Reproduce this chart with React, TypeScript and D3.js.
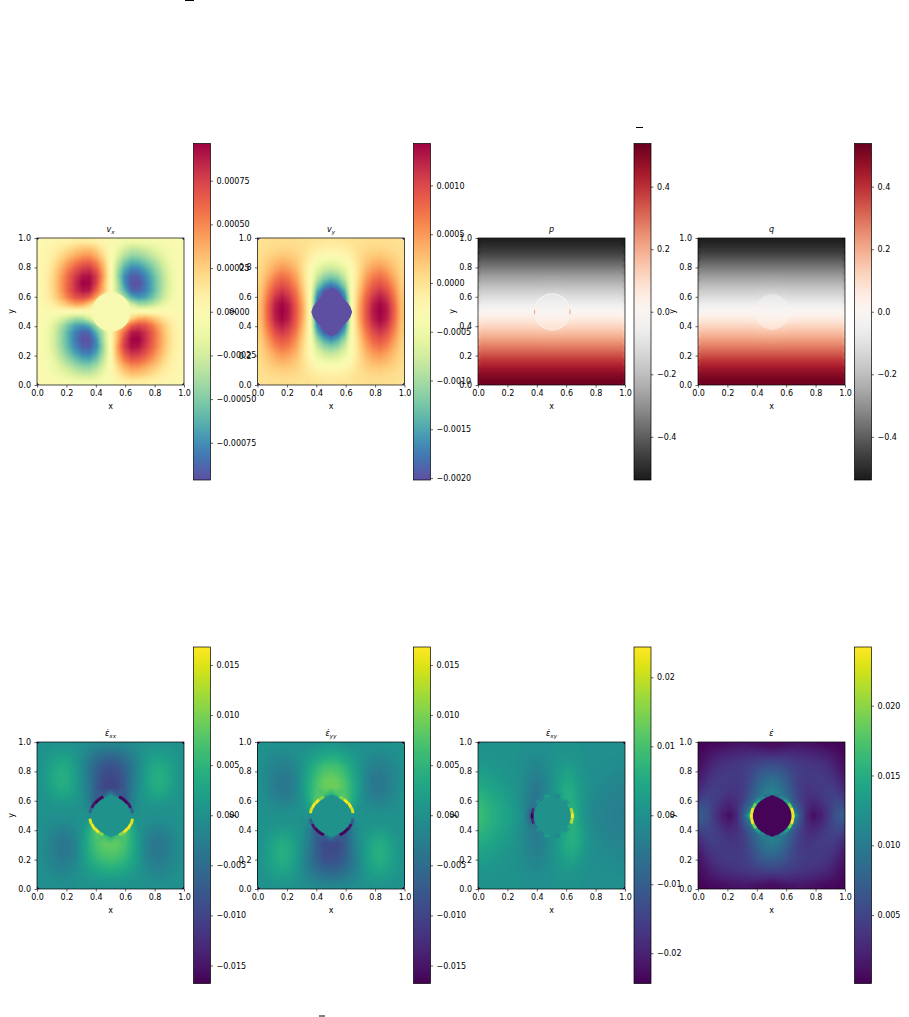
import React, { useEffect, useRef } from 'react';
import {
  select,
  scaleLinear,
  contours,
  geoPath,
  geoTransform,
  range,
  axisBottom,
  axisLeft,
  axisRight,
  format,
  lineRadial,
  curveLinearClosed,
  arc,
  interpolateSpectral,
  interpolateRdGy,
  interpolateViridis,
} from 'd3';

// All fields on a 21 x 21 lattice, rows from y=1 down to y=0
const vxGrid = [
  [1, 2, 3, 5, 7, 9, 10, 10, 8, 4, 0, -4, -8, -10, -10, -9, -7, -5, -3, -2, -1],
  [1, 4, 8, 13, 19, 25, 29, 30, 23, 12, 0, -12, -23, -30, -29, -25, -19, -13, -8, -4, -1],
  [2, 5, 12, 21, 30, 38, 44, 45, 36, 20, 1, -20, -36, -45, -44, -38, -30, -21, -12, -5, -2],
  [2, 7, 17, 30, 43, 54, 62, 64, 52, 30, 1, -30, -52, -64, -62, -54, -43, -30, -17, -7, -2],
  [3, 9, 22, 38, 54, 68, 78, 80, 66, 38, 2, -38, -66, -80, -78, -68, -54, -38, -22, -9, -3],
  [3, 10, 25, 43, 62, 78, 90, 92, 76, 42, 2, -42, -76, -92, -90, -78, -62, -43, -25, -10, -3],
  [3, 11, 26, 45, 64, 82, 96, 94, 74, 36, 1, -36, -74, -94, -96, -82, -64, -45, -26, -11, -3],
  [3, 10, 25, 44, 64, 80, 90, 88, 62, 34, 0, -34, -62, -88, -90, -80, -64, -44, -25, -10, -3],
  [2, 9, 22, 38, 55, 68, 72, 64, 40, 10, 0, -10, -40, -64, -72, -68, -55, -38, -22, -9, -2],
  [1, 5, 12, 22, 32, 40, 38, 24, 6, 0, 0, 0, -6, -24, -38, -40, -32, -22, -12, -5, -1],
  [0, 0, 0, 0, 0, 0, 0, 0, 0, 0, 0, 0, 0, 0, 0, 0, 0, 0, 0, 0, 0],
  [-1, -5, -12, -22, -32, -40, -38, -24, -6, 0, 0, 0, 6, 24, 38, 40, 32, 22, 12, 5, 1],
  [-2, -9, -22, -38, -55, -68, -72, -64, -40, -10, 0, 10, 40, 64, 72, 68, 55, 38, 22, 9, 2],
  [-3, -10, -25, -44, -64, -80, -90, -88, -62, -34, 0, 34, 62, 88, 90, 80, 64, 44, 25, 10, 3],
  [-3, -11, -26, -45, -64, -82, -96, -94, -74, -36, -1, 36, 74, 94, 96, 82, 64, 45, 26, 11, 3],
  [-3, -10, -25, -43, -62, -78, -90, -92, -76, -42, -2, 42, 76, 92, 90, 78, 62, 43, 25, 10, 3],
  [-3, -9, -22, -38, -54, -68, -78, -80, -66, -38, -2, 38, 66, 80, 78, 68, 54, 38, 22, 9, 3],
  [-2, -7, -17, -30, -43, -54, -62, -64, -52, -30, -1, 30, 52, 64, 62, 54, 43, 30, 17, 7, 2],
  [-2, -5, -12, -21, -30, -38, -44, -45, -36, -20, -1, 20, 36, 45, 44, 38, 30, 21, 12, 5, 2],
  [-1, -4, -8, -13, -19, -25, -29, -30, -23, -12, 0, 12, 23, 30, 29, 25, 19, 13, 8, 4, 1],
  [-1, -2, -3, -5, -7, -9, -10, -10, -8, -4, 0, 4, 8, 10, 10, 9, 7, 5, 3, 2, 1],
];

const vyGrid = [
  [1, 2, 2, 3, 3, 2, 1, -1, -3, -4, -5, -4, -3, -1, 1, 2, 3, 3, 2, 2, 1],
  [2, 5, 8, 10, 9, 7, 2, -5, -11, -14, -15, -14, -11, -5, 2, 7, 9, 10, 8, 5, 2],
  [4, 12, 18, 22, 20, 14, 3, -12, -24, -30, -33, -30, -24, -12, 3, 14, 20, 22, 18, 12, 4],
  [7, 20, 31, 38, 34, 23, 3, -20, -42, -53, -57, -53, -42, -20, 3, 23, 34, 38, 31, 20, 7],
  [10, 28, 44, 55, 49, 33, 4, -28, -60, -78, -85, -78, -60, -28, 4, 33, 49, 55, 44, 28, 10],
  [14, 38, 62, 75, 66, 45, 8, -28, -80, -110, -120, -110, -80, -28, 8, 45, 66, 75, 62, 38, 14],
  [18, 50, 78, 92, 82, 56, 14, -30, -105, -145, -165, -145, -105, -30, 14, 56, 82, 92, 78, 50, 18],
  [22, 62, 95, 110, 97, 68, 22, -30, -140, -190, -202, -190, -140, -30, 22, 68, 97, 110, 95, 62, 22],
  [26, 73, 112, 128, 112, 80, 30, -30, -170, -202, -202, -202, -170, -30, 30, 80, 112, 128, 112, 73, 26],
  [29, 82, 125, 140, 125, 88, 37, -30, -190, -202, -202, -202, -190, -30, 37, 88, 125, 140, 125, 82, 29],
  [30, 85, 128, 143, 128, 90, 40, -30, -202, -202, -202, -202, -202, -30, 40, 90, 128, 143, 128, 85, 30],
  [29, 82, 125, 140, 125, 88, 37, -30, -190, -202, -202, -202, -190, -30, 37, 88, 125, 140, 125, 82, 29],
  [26, 73, 112, 128, 112, 80, 30, -30, -170, -202, -202, -202, -170, -30, 30, 80, 112, 128, 112, 73, 26],
  [22, 62, 95, 110, 97, 68, 22, -30, -140, -190, -202, -190, -140, -30, 22, 68, 97, 110, 95, 62, 22],
  [18, 50, 78, 92, 82, 56, 14, -30, -105, -145, -165, -145, -105, -30, 14, 56, 82, 92, 78, 50, 18],
  [14, 38, 62, 75, 66, 45, 8, -28, -80, -110, -120, -110, -80, -28, 8, 45, 66, 75, 62, 38, 14],
  [10, 28, 44, 55, 49, 33, 4, -28, -60, -78, -85, -78, -60, -28, 4, 33, 49, 55, 44, 28, 10],
  [7, 20, 31, 38, 34, 23, 3, -20, -42, -53, -57, -53, -42, -20, 3, 23, 34, 38, 31, 20, 7],
  [4, 12, 18, 22, 20, 14, 3, -12, -24, -30, -33, -30, -24, -12, 3, 14, 20, 22, 18, 12, 4],
  [2, 5, 8, 10, 9, 7, 2, -5, -11, -14, -15, -14, -11, -5, 2, 7, 9, 10, 8, 5, 2],
  [1, 2, 2, 3, 3, 2, 1, -1, -3, -4, -5, -4, -3, -1, 1, 2, 3, 3, 2, 2, 1],
];

const pGrid = [
  [-520, -520, -520, -520, -520, -520, -520, -520, -520, -520, -520, -520, -520, -520, -520, -520, -520, -520, -520, -520, -520],
  [-485, -485, -485, -485, -485, -485, -485, -485, -485, -485, -485, -485, -485, -485, -485, -485, -485, -485, -485, -485, -485],
  [-440, -440, -440, -440, -440, -440, -440, -440, -440, -440, -440, -440, -440, -440, -440, -440, -440, -440, -440, -440, -440],
  [-385, -385, -385, -385, -385, -385, -385, -385, -385, -385, -385, -385, -385, -385, -385, -385, -385, -385, -385, -385, -385],
  [-330, -330, -330, -330, -330, -330, -330, -330, -330, -330, -330, -330, -330, -330, -330, -330, -330, -330, -330, -330, -330],
  [-272, -272, -272, -272, -272, -272, -272, -272, -272, -270, -270, -270, -272, -272, -272, -272, -272, -272, -272, -272, -272],
  [-220, -220, -220, -220, -220, -220, -220, -220, -218, -216, -216, -216, -218, -220, -220, -220, -220, -220, -220, -220, -220],
  [-165, -165, -165, -165, -165, -165, -165, -165, -162, -160, -160, -160, -162, -165, -165, -165, -165, -165, -165, -165, -165],
  [-110, -110, -110, -110, -110, -110, -110, -110, -106, -104, -104, -104, -106, -110, -110, -110, -110, -110, -110, -110, -110],
  [-55, -55, -55, -55, -55, -55, -55, -55, -52, -50, -50, -50, -52, -55, -55, -55, -55, -55, -55, -55, -55],
  [0, 0, 0, 0, 0, 0, 0, 0, 0, 0, 0, 0, 0, 0, 0, 0, 0, 0, 0, 0, 0],
  [55, 55, 55, 55, 55, 55, 55, 55, 52, 50, 50, 50, 52, 55, 55, 55, 55, 55, 55, 55, 55],
  [110, 110, 110, 110, 110, 110, 110, 110, 106, 104, 104, 104, 106, 110, 110, 110, 110, 110, 110, 110, 110],
  [165, 165, 165, 165, 165, 165, 165, 165, 162, 160, 160, 160, 162, 165, 165, 165, 165, 165, 165, 165, 165],
  [220, 220, 220, 220, 220, 220, 220, 220, 218, 216, 216, 216, 218, 220, 220, 220, 220, 220, 220, 220, 220],
  [275, 275, 275, 275, 275, 275, 275, 275, 275, 273, 273, 273, 275, 275, 275, 275, 275, 275, 275, 275, 275],
  [330, 330, 330, 330, 330, 330, 330, 330, 330, 330, 330, 330, 330, 330, 330, 330, 330, 330, 330, 330, 330],
  [390, 390, 390, 390, 390, 390, 390, 390, 390, 390, 390, 390, 390, 390, 390, 390, 390, 390, 390, 390, 390],
  [445, 445, 445, 445, 445, 445, 445, 445, 445, 445, 445, 445, 445, 445, 445, 445, 445, 445, 445, 445, 445],
  [490, 490, 490, 490, 490, 490, 490, 490, 490, 490, 490, 490, 490, 490, 490, 490, 490, 490, 490, 490, 490],
  [525, 525, 525, 525, 525, 525, 525, 525, 525, 525, 525, 525, 525, 525, 525, 525, 525, 525, 525, 525, 525],
];

const qGrid = [
  [-522, -522, -522, -522, -522, -522, -522, -522, -522, -522, -522, -522, -522, -522, -522, -522, -522, -522, -522, -522, -522],
  [-487, -487, -487, -487, -487, -487, -487, -487, -487, -487, -487, -487, -487, -487, -487, -487, -487, -487, -487, -487, -487],
  [-442, -442, -442, -442, -442, -442, -442, -442, -442, -442, -442, -442, -442, -442, -442, -442, -442, -442, -442, -442, -442],
  [-386, -386, -386, -386, -386, -386, -386, -386, -386, -386, -386, -386, -386, -386, -386, -386, -386, -386, -386, -386, -386],
  [-331, -331, -331, -331, -331, -331, -331, -331, -331, -331, -331, -331, -331, -331, -331, -331, -331, -331, -331, -331, -331],
  [-274, -274, -274, -274, -274, -274, -274, -274, -274, -272, -272, -272, -274, -274, -274, -274, -274, -274, -274, -274, -274],
  [-221, -221, -221, -221, -221, -221, -221, -221, -219, -217, -217, -217, -219, -221, -221, -221, -221, -221, -221, -221, -221],
  [-166, -166, -166, -166, -166, -166, -166, -166, -163, -161, -161, -161, -163, -166, -166, -166, -166, -166, -166, -166, -166],
  [-111, -111, -111, -111, -111, -111, -111, -111, -107, -105, -105, -105, -107, -111, -111, -111, -111, -111, -111, -111, -111],
  [-55, -55, -55, -55, -55, -55, -55, -55, -52, -50, -50, -50, -52, -55, -55, -55, -55, -55, -55, -55, -55],
  [0, 0, 0, 0, 0, 0, 0, 0, 0, 0, 0, 0, 0, 0, 0, 0, 0, 0, 0, 0, 0],
  [55, 55, 55, 55, 55, 55, 55, 55, 52, 50, 50, 50, 52, 55, 55, 55, 55, 55, 55, 55, 55],
  [111, 111, 111, 111, 111, 111, 111, 111, 107, 105, 105, 105, 107, 111, 111, 111, 111, 111, 111, 111, 111],
  [166, 166, 166, 166, 166, 166, 166, 166, 163, 161, 161, 161, 163, 166, 166, 166, 166, 166, 166, 166, 166],
  [221, 221, 221, 221, 221, 221, 221, 221, 219, 217, 217, 217, 219, 221, 221, 221, 221, 221, 221, 221, 221],
  [276, 276, 276, 276, 276, 276, 276, 276, 276, 274, 274, 274, 276, 276, 276, 276, 276, 276, 276, 276, 276],
  [331, 331, 331, 331, 331, 331, 331, 331, 331, 331, 331, 331, 331, 331, 331, 331, 331, 331, 331, 331, 331],
  [391, 391, 391, 391, 391, 391, 391, 391, 391, 391, 391, 391, 391, 391, 391, 391, 391, 391, 391, 391, 391],
  [447, 447, 447, 447, 447, 447, 447, 447, 447, 447, 447, 447, 447, 447, 447, 447, 447, 447, 447, 447, 447],
  [492, 492, 492, 492, 492, 492, 492, 492, 492, 492, 492, 492, 492, 492, 492, 492, 492, 492, 492, 492, 492],
  [527, 527, 527, 527, 527, 527, 527, 527, 527, 527, 527, 527, 527, 527, 527, 527, 527, 527, 527, 527, 527],
];

const exxGrid = [
  [0, 3, 5, 6, 5, 2, -3, -8, -13, -17, -18, -17, -13, -8, -3, 2, 5, 6, 5, 3, 0],
  [2, 8, 14, 16, 14, 7, -6, -20, -33, -41, -44, -41, -33, -20, -6, 7, 14, 16, 14, 8, 2],
  [4, 13, 22, 27, 24, 11, -9, -30, -50, -62, -66, -62, -50, -30, -9, 11, 24, 27, 22, 13, 4],
  [5, 17, 30, 37, 32, 15, -10, -36, -62, -78, -83, -78, -62, -36, -10, 15, 32, 37, 30, 17, 5],
  [5, 19, 34, 42, 36, 18, -10, -38, -68, -88, -94, -88, -68, -38, -10, 18, 36, 42, 34, 19, 5],
  [5, 19, 35, 43, 37, 20, -8, -36, -70, -92, -100, -92, -70, -36, -8, 20, 37, 43, 35, 19, 5],
  [4, 17, 31, 39, 33, 18, -6, -32, -72, -95, -100, -95, -72, -32, -6, 18, 33, 39, 31, 17, 4],
  [3, 12, 23, 30, 25, 14, -3, -30, -70, -70, -20, -70, -70, -30, -3, 14, 25, 30, 23, 12, 3],
  [1, 6, 11, 14, 13, 8, -2, -25, -80, 0, 0, 0, -80, -25, -2, 8, 13, 14, 11, 6, 1],
  [0, 1, 2, 3, 3, 2, -1, -15, -10, 0, 0, 0, -10, -15, -1, 2, 3, 3, 2, 1, 0],
  [0, 0, -1, -1, -1, 0, 0, -2, 0, 0, 0, 0, 0, -2, 0, 0, -1, -1, -1, 0, 0],
  [0, -2, -6, -8, -6, -3, 2, 25, 20, 0, 0, 0, 20, 25, 2, -3, -6, -8, -6, -2, 0],
  [-1, -6, -14, -20, -18, -8, 8, 40, 90, 0, 0, 0, 90, 40, 8, -8, -18, -20, -14, -6, -1],
  [-2, -10, -22, -30, -28, -13, 12, 45, 75, 70, 40, 70, 75, 45, 12, -13, -28, -30, -22, -10, -2],
  [-3, -13, -27, -35, -33, -16, 15, 45, 70, 85, 85, 85, 70, 45, 15, -16, -33, -35, -27, -13, -3],
  [-4, -14, -28, -36, -33, -16, 15, 42, 65, 78, 82, 78, 65, 42, 15, -16, -33, -36, -28, -14, -4],
  [-4, -13, -25, -32, -29, -14, 12, 36, 55, 66, 70, 66, 55, 36, 12, -14, -29, -32, -25, -13, -4],
  [-3, -10, -20, -25, -22, -10, 10, 28, 42, 50, 54, 50, 42, 28, 10, -10, -22, -25, -20, -10, -3],
  [-2, -7, -13, -17, -14, -6, 7, 18, 28, 34, 36, 34, 28, 18, 7, -6, -14, -17, -13, -7, -2],
  [-1, -3, -6, -8, -6, -2, 3, 9, 14, 17, 18, 17, 14, 9, 3, -2, -6, -8, -6, -3, -1],
  [0, -1, -1, -2, -1, 0, 1, 2, 4, 5, 6, 5, 4, 2, 1, 0, -1, -2, -1, -1, 0],
];

const eyyGrid = [
  [0, 1, 1, -2, -1, 0, -1, -2, 4, 8, 12, 8, 4, -2, -1, 0, -1, -2, 1, 1, 0],
  [1, -3, -6, -8, -6, -2, 3, 12, 20, 26, 28, 26, 20, 12, 3, -2, -6, -8, -6, -3, 1],
  [2, -7, -13, -17, -14, -6, 7, 20, 34, 44, 48, 44, 34, 20, 7, -6, -14, -17, -13, -7, 2],
  [-3, -10, -20, -25, -22, -10, 10, 30, 50, 64, 68, 64, 50, 30, 10, -10, -22, -25, -20, -10, -3],
  [-4, -13, -25, -32, -29, -14, 12, 36, 60, 76, 82, 76, 60, 36, 12, -14, -29, -32, -25, -13, -4],
  [-4, -14, -28, -36, -33, -16, 15, 42, 70, 88, 92, 88, 70, 42, 15, -16, -33, -36, -28, -14, -4],
  [-3, -13, -27, -35, -33, -16, 15, 45, 72, 90, 92, 90, 72, 45, 15, -16, -33, -35, -27, -13, -3],
  [-2, -10, -22, -30, -28, -13, 12, 45, 75, 72, 40, 72, 75, 45, 12, -13, -28, -30, -22, -10, -2],
  [-1, -6, -14, -20, -18, -8, 8, 40, 90, 0, 0, 0, 90, 40, 8, -8, -18, -20, -14, -6, -1],
  [0, -2, -6, -8, -6, -3, 2, 25, 20, 0, 0, 0, 20, 25, 2, -3, -6, -8, -6, -2, 0],
  [0, 0, 1, 1, 1, 0, 0, 2, 0, 0, 0, 0, 0, 2, 0, 0, 1, 1, 1, 0, 0],
  [0, 1, 2, 3, 3, 2, -1, -15, -10, 0, 0, 0, -10, -15, -1, 2, 3, 3, 2, 1, 0],
  [1, 6, 11, 14, 13, 8, -2, -25, -80, 0, 0, 0, -80, -25, -2, 8, 13, 14, 11, 6, 1],
  [3, 12, 23, 30, 25, 14, -3, -30, -70, -70, -20, -70, -70, -30, -3, 14, 25, 30, 23, 12, 3],
  [4, 17, 31, 39, 33, 18, -6, -32, -72, -92, -95, -92, -72, -32, -6, 18, 33, 39, 31, 17, 4],
  [5, 19, 35, 43, 37, 20, -8, -36, -70, -88, -92, -88, -70, -36, -8, 20, 37, 43, 35, 19, 5],
  [5, 19, 34, 42, 36, 18, -10, -38, -66, -84, -88, -84, -66, -38, -10, 18, 36, 42, 34, 19, 5],
  [5, 17, 30, 37, 32, 15, -10, -36, -58, -72, -76, -72, -58, -36, -10, 15, 32, 37, 30, 17, 5],
  [4, 13, 22, 27, 24, 11, -9, -28, -44, -54, -58, -54, -44, -28, -9, 11, 24, 27, 22, 13, 4],
  [2, 8, 14, 16, 14, 7, -6, -18, -28, -34, -36, -34, -28, -18, -6, 7, 14, 16, 14, 8, 2],
  [0, 3, 5, 6, 5, 2, -3, -6, -10, -12, -14, -12, -10, -6, -3, 2, 5, 6, 5, 3, 0],
];

const exyGrid = [
  [2, 2, 2, 2, 1, 1, 0, -1, -2, -2, 0, 2, 2, 1, 0, -1, -1, -1, -1, -1, -1],
  [5, 5, 4, 3, 2, 1, -2, -5, -7, -5, 0, 5, 7, 5, 2, -1, -1, -2, -2, -3, -3],
  [12, 10, 8, 6, 3, 0, -5, -12, -15, -10, 0, 10, 15, 12, 5, 0, -2, -4, -5, -6, -7],
  [20, 17, 13, 9, 5, 0, -8, -18, -24, -15, 0, 15, 26, 22, 10, 0, -3, -6, -8, -10, -12],
  [30, 25, 19, 13, 7, 0, -10, -24, -32, -20, 0, 20, 36, 32, 14, 1, -4, -8, -11, -14, -16],
  [40, 34, 26, 18, 10, 1, -12, -30, -42, -26, 0, 26, 46, 42, 20, 2, -6, -10, -14, -18, -20],
  [52, 44, 34, 25, 15, 3, -14, -35, -50, -28, 0, 30, 54, 50, 24, 4, -8, -14, -18, -22, -25],
  [64, 54, 42, 31, 20, 6, -14, -40, -55, -20, 0, 22, 58, 54, 26, 4, -11, -18, -22, -26, -29],
  [76, 62, 50, 38, 26, 10, -14, -45, -50, -3, 0, 3, 52, 58, 28, 2, -14, -21, -26, -30, -33],
  [84, 68, 54, 42, 31, 14, -12, -60, -10, 0, 0, 0, 10, 68, 30, 0, -17, -24, -28, -32, -35],
  [86, 70, 56, 44, 33, 16, -10, -90, 0, 0, 0, 0, 0, 95, 32, 0, -18, -25, -30, -33, -36],
  [84, 68, 54, 42, 31, 14, -12, -60, -10, 0, 0, 0, 10, 72, 36, 6, -14, -24, -28, -32, -35],
  [76, 62, 50, 38, 26, 10, -14, -42, -40, -3, 0, 3, 40, 66, 44, 12, -12, -21, -26, -30, -33],
  [64, 54, 42, 31, 20, 6, -14, -36, -45, -20, 0, 20, 50, 66, 48, 14, -9, -18, -22, -26, -29],
  [52, 44, 34, 25, 15, 3, -14, -32, -42, -26, 0, 26, 52, 64, 46, 14, -6, -14, -18, -22, -25],
  [40, 34, 26, 18, 10, 1, -12, -28, -35, -22, 0, 22, 46, 54, 36, 10, -5, -10, -14, -18, -20],
  [30, 25, 19, 13, 7, 0, -10, -22, -28, -18, 0, 18, 36, 42, 26, 6, -4, -8, -11, -14, -16],
  [20, 17, 13, 9, 5, 0, -8, -16, -20, -14, 0, 14, 26, 28, 16, 2, -3, -6, -8, -10, -12],
  [12, 10, 8, 6, 3, 0, -5, -10, -13, -9, 0, 9, 15, 15, 8, 0, -2, -4, -5, -6, -7],
  [5, 5, 4, 3, 2, 1, -2, -5, -6, -4, 0, 5, 7, 6, 3, -1, -1, -2, -2, -3, -3],
  [2, 2, 2, 2, 1, 1, 0, -1, -2, -2, 0, 2, 2, 1, 0, -1, -1, -1, -1, -1, -1],
];

const eGrid = [
  [4, 6, 7, 9, 12, 14, 15, 14, 12, 10, 8, 10, 12, 14, 15, 14, 12, 9, 7, 6, 4],
  [7, 12, 17, 20, 23, 25, 27, 28, 29, 27, 24, 27, 29, 28, 27, 25, 23, 20, 17, 12, 7],
  [10, 18, 25, 30, 33, 35, 37, 40, 43, 45, 46, 45, 43, 40, 37, 35, 33, 30, 25, 18, 10],
  [14, 24, 33, 37, 39, 40, 43, 48, 55, 60, 62, 60, 55, 48, 43, 40, 39, 37, 33, 24, 14],
  [18, 30, 37, 40, 41, 41, 45, 52, 65, 73, 76, 73, 65, 52, 45, 41, 41, 40, 37, 30, 18],
  [24, 36, 41, 42, 41, 40, 44, 56, 72, 85, 90, 85, 72, 56, 44, 40, 41, 42, 41, 36, 24],
  [31, 41, 44, 42, 40, 38, 44, 60, 80, 95, 100, 95, 80, 60, 44, 38, 40, 42, 44, 41, 31],
  [40, 46, 45, 40, 35, 36, 46, 65, 85, 105, 110, 105, 85, 65, 46, 36, 35, 40, 45, 46, 40],
  [52, 52, 44, 34, 28, 33, 50, 75, 115, 100, 3, 100, 115, 75, 50, 33, 28, 34, 44, 52, 52],
  [65, 56, 40, 26, 20, 30, 62, 100, 130, 3, 3, 3, 130, 100, 62, 30, 20, 26, 40, 56, 65],
  [72, 58, 38, 20, 9, 28, 68, 170, 3, 3, 3, 3, 3, 170, 68, 28, 9, 20, 38, 58, 72],
  [65, 56, 40, 26, 20, 30, 62, 100, 130, 3, 3, 3, 130, 100, 62, 30, 20, 26, 40, 56, 65],
  [52, 52, 44, 34, 28, 33, 50, 75, 115, 100, 3, 100, 115, 75, 50, 33, 28, 34, 44, 52, 52],
  [40, 46, 45, 40, 35, 36, 46, 65, 85, 105, 110, 105, 85, 65, 46, 36, 35, 40, 45, 46, 40],
  [31, 41, 44, 42, 40, 38, 44, 60, 80, 95, 100, 95, 80, 60, 44, 38, 40, 42, 44, 41, 31],
  [24, 36, 41, 42, 41, 40, 44, 56, 72, 85, 90, 85, 72, 56, 44, 40, 41, 42, 41, 36, 24],
  [18, 30, 37, 40, 41, 41, 45, 52, 65, 73, 76, 73, 65, 52, 45, 41, 41, 40, 37, 30, 18],
  [14, 24, 33, 37, 39, 40, 43, 48, 55, 60, 62, 60, 55, 48, 43, 40, 39, 37, 33, 24, 14],
  [10, 18, 25, 30, 33, 35, 37, 40, 43, 45, 46, 45, 43, 40, 37, 35, 33, 30, 25, 18, 10],
  [7, 12, 17, 20, 23, 25, 27, 28, 29, 27, 24, 27, 29, 28, 27, 25, 23, 20, 17, 12, 7],
  [4, 6, 7, 9, 12, 14, 15, 14, 12, 10, 8, 10, 12, 14, 15, 14, 12, 9, 7, 6, 4],
];

// Inclusion: outline radius and rim value per 15 degrees, clockwise from the top; core values top to bottom
const vxRadii = [0.133, 0.133, 0.133, 0.133, 0.133, 0.133, 0.133, 0.133, 0.133, 0.133, 0.133, 0.133, 0.133, 0.133, 0.133, 0.133, 0.133, 0.133, 0.133, 0.133, 0.133, 0.133, 0.133, 0.133];
const vyRadii = [0.167, 0.148, 0.13, 0.12, 0.125, 0.132, 0.139, 0.132, 0.125, 0.12, 0.13, 0.148, 0.167, 0.148, 0.13, 0.12, 0.125, 0.132, 0.139, 0.132, 0.125, 0.12, 0.13, 0.148];
const pRadii = [0.119, 0.118, 0.117, 0.117, 0.117, 0.117, 0.117, 0.117, 0.117, 0.117, 0.117, 0.118, 0.119, 0.118, 0.117, 0.117, 0.117, 0.117, 0.117, 0.117, 0.117, 0.117, 0.117, 0.118];
const qRadii = [0.122, 0.121, 0.12, 0.12, 0.12, 0.12, 0.12, 0.12, 0.12, 0.12, 0.12, 0.121, 0.122, 0.121, 0.12, 0.12, 0.12, 0.12, 0.12, 0.12, 0.12, 0.12, 0.12, 0.121];
const exxRadii = [0.143, 0.135, 0.13, 0.13, 0.133, 0.136, 0.138, 0.136, 0.133, 0.13, 0.13, 0.135, 0.143, 0.135, 0.13, 0.13, 0.133, 0.136, 0.138, 0.136, 0.133, 0.13, 0.13, 0.135];
const exyRadii = [0.13, 0.129, 0.128, 0.127, 0.127, 0.127, 0.127, 0.127, 0.127, 0.127, 0.128, 0.129, 0.13, 0.129, 0.128, 0.127, 0.127, 0.127, 0.127, 0.127, 0.127, 0.127, 0.128, 0.129];
const eRadii = [0.142, 0.134, 0.13, 0.13, 0.13, 0.131, 0.132, 0.131, 0.13, 0.13, 0.13, 0.134, 0.142, 0.134, 0.13, 0.13, 0.13, 0.131, 0.132, 0.131, 0.13, 0.13, 0.13, 0.134];

const vxCore = [-3];
const vyCore = [-202];
const pCore = [-80, -70, -58, -45, -32, -18, -4, 12, 28, 42, 56, 68, 80];
const qCore = [-80, -70, -58, -45, -32, -18, -4, 12, 28, 42, 56, 68, 80];
const exxCore = [3];
const eyyCore = [3];
const exyCore = [1];
const eCore = [3];

const pRim = [-20, -20, -15, -15, -10, 40, 200, 40, 10, 15, 20, 30, 30, 30, 20, 15, 10, 40, 200, 40, -10, -15, -15, -20];
const qRim = [null, null, null, null, null, 20, 0, 40, null, null, null, null, null, null, null, null, null, 40, 0, 20, null, null, null, null];
const exxRim = [null, null, -165, -165, -150, -70, null, 150, 165, 165, 110, null, null, null, 110, 165, 165, 150, null, -70, -150, -165, -165, null];
const eyyRim = [null, null, 110, 165, 165, 150, null, -70, -150, -165, -165, null, null, null, -165, -165, -150, -70, null, 150, 165, 165, 110, null];
const exyRim = [null, -20, null, 10, 60, 190, 244, 190, 60, 10, null, -20, null, 25, null, -10, -60, -190, -244, -190, -60, -10, null, 25];
const eRim = [null, 90, 110, 140, 190, 242, 242, 242, 190, 140, 110, 90, null, 90, 110, 140, 190, 242, 242, 242, 190, 140, 110, 90];

const vxTicks = [-0.00075, -0.0005, -0.00025, 0, 0.00025, 0.0005, 0.00075];
const vyTicks = [-0.002, -0.0015, -0.001, -0.0005, 0, 0.0005, 0.001];
const pqTicks = [-0.4, -0.2, 0, 0.2, 0.4];
const exxTicks = [-0.015, -0.01, -0.005, 0, 0.005, 0.01, 0.015];
const exyTicks = [-0.02, -0.01, 0, 0.01, 0.02];
const eTicks = [0.005, 0.01, 0.015, 0.02];
const axisTicks = [0, 0.2, 0.4, 0.6, 0.8, 1];

const spectralR = (t: number) => interpolateSpectral(1 - t);
const rdgyR = (t: number) => interpolateRdGy(1 - t);

const panels = [
  { title: 'v', sub: 'x', grid: vxGrid, unit: 1e-5, domain: [-0.000963, 0.000963], ticks: vxTicks, fmt: '.5f', cmap: spectralR, radii: vxRadii, core: vxCore, rim: null },
  { title: 'v', sub: 'y', grid: vyGrid, unit: 1e-5, domain: [-0.00202, 0.00143], ticks: vyTicks, fmt: '.4f', cmap: spectralR, radii: vyRadii, core: vyCore, rim: null },
  { title: 'p', sub: '', grid: pGrid, unit: 1e-3, domain: [-0.538, 0.538], ticks: pqTicks, fmt: '.1f', cmap: rdgyR, radii: pRadii, core: pCore, rim: pRim },
  { title: 'q', sub: '', grid: qGrid, unit: 1e-3, domain: [-0.538, 0.538], ticks: pqTicks, fmt: '.1f', cmap: rdgyR, radii: qRadii, core: qCore, rim: qRim },
  { title: 'ε\u0307', sub: 'xx', grid: exxGrid, unit: 1e-4, domain: [-0.0168, 0.0168], ticks: exxTicks, fmt: '.3f', cmap: interpolateViridis, radii: exxRadii, core: exxCore, rim: exxRim },
  { title: 'ε\u0307', sub: 'yy', grid: eyyGrid, unit: 1e-4, domain: [-0.0168, 0.0168], ticks: exxTicks, fmt: '.3f', cmap: interpolateViridis, radii: exxRadii, core: eyyCore, rim: eyyRim },
  { title: 'ε\u0307', sub: 'xy', grid: exyGrid, unit: 1e-4, domain: [-0.0244, 0.0244], ticks: exyTicks, fmt: '.2f', cmap: interpolateViridis, radii: exyRadii, core: exyCore, rim: exyRim },
  { title: 'ε\u0307', sub: '', grid: eGrid, unit: 1e-4, domain: [0.0001, 0.0242], ticks: eTicks, fmt: '.3f', cmap: interpolateViridis, radii: eRadii, core: eCore, rim: eRim },
];

const axesLefts = [37, 257.5, 478, 698];
const barLefts = [193.5, 413.5, 634, 854.5];
const axesTops = [238, 742];
const barTops = [143.5, 647];
const axesSize = 147;
const barWidth = 17;
const barHeight = 336.5;
const font = "'DejaVu Sans', sans-serif";
const inkColor = '#000';

export default function App() {
  const svgRef = useRef<SVGSVGElement>(null);

  useEffect(() => {
    const svg = select(svgRef.current);
    svg.selectAll('*').remove();

    panels.forEach((panel, k) => {
      const left = axesLefts[k % 4];
      const top = axesTops[k < 4 ? 0 : 1];
      const barLeft = barLefts[k % 4];
      const barTop = barTops[k < 4 ? 0 : 1];
      const n = panel.grid.length;
      const color = scaleLinear().domain(panel.domain).range([0, 1]).clamp(true);
      const fill = (v: number) => panel.cmap(color(v));

      const x = scaleLinear().domain([0, 1]).range([0, axesSize]);
      const y = scaleLinear().domain([0, 1]).range([axesSize, 0]);
      const gridX = scaleLinear().domain([0, n]).range([0, axesSize]);
      const gridY = scaleLinear().domain([0, n]).range([0, axesSize]);

      const ax = svg.append('g').attr('transform', `translate(${left},${top})`);
      const clipId = 'clip-' + k;
      ax.append('clipPath').attr('id', clipId).append('rect').attr('width', axesSize).attr('height', axesSize);
      const image = ax.append('g').attr('clip-path', `url(#${clipId})`);

      // filled bands of the field, lowest first
      const flat = panel.grid.flat().map(v => v * panel.unit);
      const levels = 110;
      const step = (panel.domain[1] - panel.domain[0]) / levels;
      const thresholds = range(levels).map(i => panel.domain[0] + i * step);
      const bands = contours().size([n, n]).thresholds(thresholds)(flat);
      const path = geoPath(
        geoTransform({
          point(px: number, py: number) {
            this.stream.point(gridX(px), gridY(py));
          },
        }),
      );
      image.append('rect').attr('width', axesSize).attr('height', axesSize).attr('fill', fill(panel.domain[0]));
      image
        .selectAll('path.band')
        .data(bands)
        .join('path')
        .attr('class', 'band')
        .attr('d', d => path(d))
        .attr('fill', d => fill(d.value + step / 2));

      // inclusion: outline, core values and rim
      const angles = panel.radii.map((_, i) => (i * Math.PI) / 12);
      const r = scaleLinear().domain([0, 1]).range([0, axesSize]);
      const outline = lineRadial<number>()
        .angle((_, i) => angles[i])
        .radius(d => r(d))
        .curve(curveLinearClosed);
      const cx = x(0.505);
      const cy = y(0.497);
      const coreClip = 'core-' + k;
      ax.append('clipPath')
        .attr('id', coreClip)
        .append('path')
        .attr('transform', `translate(${cx},${cy})`)
        .attr('d', outline(panel.radii));
      const maxR = r(Math.max(...panel.radii));
      const strip = (2 * maxR) / panel.core.length;
      image
        .append('g')
        .attr('clip-path', `url(#${coreClip})`)
        .selectAll('rect')
        .data(panel.core)
        .join('rect')
        .attr('x', cx - maxR)
        .attr('width', 2 * maxR)
        .attr('y', (_, i) => cy - maxR + i * strip)
        .attr('height', strip + 0.5)
        .attr('fill', d => fill(d * panel.unit));

      if (panel.rim) {
        const rimWidth = k < 4 ? 0.008 : 0.02;
        const wedge = arc();
        image
          .append('g')
          .attr('transform', `translate(${cx},${cy})`)
          .selectAll('path')
          .data(panel.rim)
          .join('path')
          .attr('d', (_, i) =>
            wedge({
              innerRadius: r(panel.radii[i]),
              outerRadius: r(panel.radii[i] + rimWidth),
              startAngle: angles[i] - Math.PI / 24,
              endAngle: angles[i] + Math.PI / 24,
            }),
          )
          .attr('fill', d => (d === null ? 'none' : fill(d * panel.unit)));
      }

      // axes of the image
      const xAxis = axisBottom(x).tickValues(axisTicks).tickFormat(format('.1f')).tickSize(2.5).tickPadding(3);
      const yAxis = axisLeft(y).tickValues(axisTicks).tickFormat(format('.1f')).tickSize(2.5).tickPadding(3.5);
      const gx = ax.append('g').attr('transform', `translate(0,${axesSize})`).call(xAxis);
      const gy = ax.append('g').call(yAxis);
      [gx, gy].forEach(g => {
        g.select('.domain').remove();
        g.attr('font-size', 8).attr('font-family', font);
        g.selectAll('line').attr('stroke', inkColor).attr('stroke-width', 0.6);
        g.selectAll('text').attr('fill', inkColor);
      });
      ax.append('rect')
        .attr('width', axesSize)
        .attr('height', axesSize)
        .attr('fill', 'none')
        .attr('stroke', inkColor)
        .attr('stroke-width', 0.7);

      ax.append('text')
        .attr('x', axesSize / 2)
        .attr('y', axesSize + 24)
        .attr('text-anchor', 'middle')
        .attr('font-size', 8)
        .attr('font-family', font)
        .text('x');
      ax.append('text')
        .attr('transform', `translate(-23.5,${axesSize / 2}) rotate(-90)`)
        .attr('text-anchor', 'middle')
        .attr('font-size', 8)
        .attr('font-family', font)
        .text('y');

      const title = ax
        .append('text')
        .attr('x', axesSize / 2)
        .attr('y', -6)
        .attr('text-anchor', 'middle')
        .attr('font-size', 8)
        .attr('font-style', 'italic')
        .attr('font-family', font);
      title.append('tspan').text(panel.title);
      if (panel.sub) {
        title.append('tspan').attr('dy', 1.5).attr('font-size', 5.6).text(panel.sub);
      }

      // colour bar, one gradient stop per sampled value
      const bar = svg.append('g').attr('transform', `translate(${barLeft},${barTop})`);
      const barY = scaleLinear().domain(panel.domain).range([barHeight, 0]);
      const gradId = 'bar-' + k;
      const stops = range(65).map(i => i / 64);
      const gradient = bar
        .append('linearGradient')
        .attr('id', gradId)
        .attr('x1', 0)
        .attr('y1', 1)
        .attr('x2', 0)
        .attr('y2', 0);
      gradient
        .selectAll('stop')
        .data(stops)
        .join('stop')
        .attr('offset', d => d)
        .attr('stop-color', d => panel.cmap(d));
      bar.append('rect')
        .attr('width', barWidth)
        .attr('height', barHeight)
        .attr('fill', `url(#${gradId})`)
        .attr('stroke', inkColor)
        .attr('stroke-width', 0.7);
      const barAxis = axisRight(barY).tickValues(panel.ticks).tickFormat(format(panel.fmt)).tickSize(2.5).tickPadding(3.5);
      const gBar = bar.append('g').attr('transform', `translate(${barWidth},0)`).call(barAxis);
      gBar.select('.domain').remove();
      gBar.attr('font-size', 8).attr('font-family', font);
      gBar.selectAll('line').attr('stroke', inkColor).attr('stroke-width', 0.6);
      gBar.selectAll('text').attr('fill', inkColor);
    });

    // stray dashes left on the page by clipped labels
    const dashes = [
      [185, 0.5, 9],
      [636, 127.5, 7],
      [319, 1016, 6],
    ];
    svg
      .selectAll('rect.dash')
      .data(dashes)
      .join('rect')
      .attr('class', 'dash')
      .attr('x', d => d[0])
      .attr('y', d => d[1] - 0.5)
      .attr('width', d => d[2])
      .attr('height', 1)
      .attr('fill', inkColor);
  }, []);

  return <svg ref={svgRef} width={909} height={1017} style={{ position: 'absolute', left: 0, top: 0, background: '#fff' }} />;
}
